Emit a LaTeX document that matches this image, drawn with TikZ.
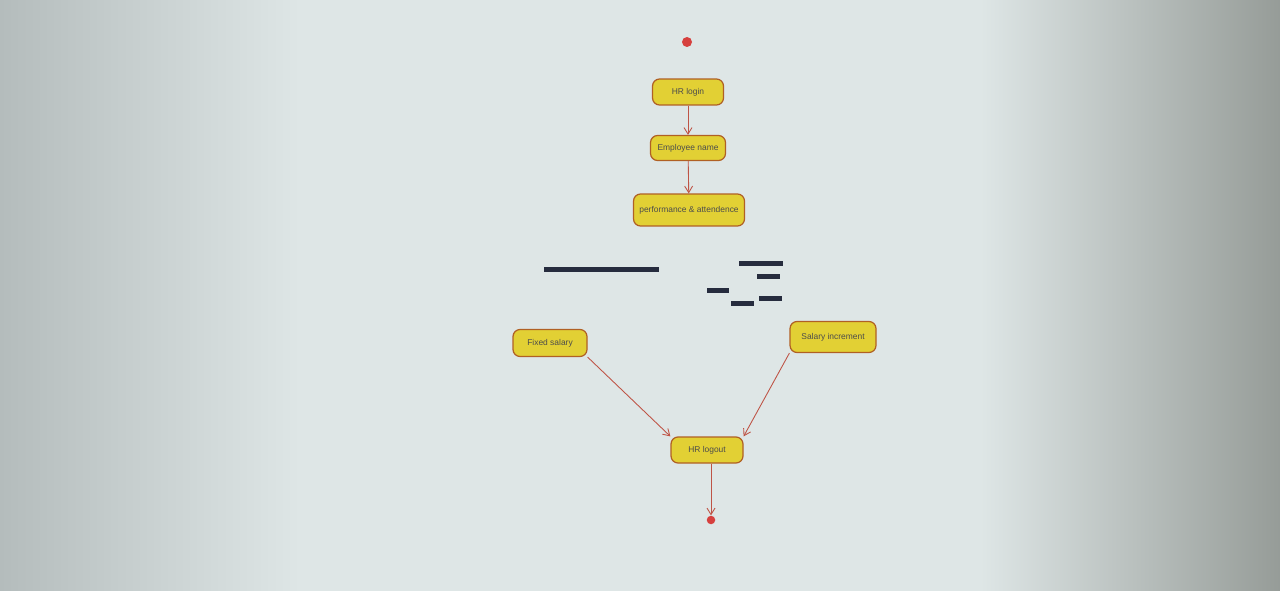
\documentclass[tikz,border=0pt]{standalone}
\usepackage{fontspec}
\setmainfont{Liberation Sans}
\usepackage{tikz}
\usetikzlibrary{arrows.meta, positioning}
\definecolor{actfill}{RGB}{226,208,52}
\definecolor{actdraw}{RGB}{176,96,36}
\definecolor{flow}{RGB}{190,84,70}
\definecolor{dotred}{RGB}{214,64,62}
\definecolor{barblue}{RGB}{38,44,62}
\definecolor{bgleft}{RGB}{180,188,188}
\definecolor{bgmid}{RGB}{222,230,230}
\definecolor{bgright}{RGB}{150,156,152}

\begin{document}
\begin{tikzpicture}[x=0.02cm, y=-0.02cm, >={Straight Barb[length=1.3mm, width=1.6mm]}, flowline/.style={draw=flow, line width=0.5pt}]
% Define styles for actions, bars, start and end
\tikzstyle{action} = [draw=actdraw, fill=actfill, rectangle, rounded corners=4pt, line width=0.7pt, inner sep=1pt, font=\fontsize{4.8}{5.5}\selectfont, text=black!70]
\tikzstyle{initial} = [circle, fill=dotred, inner sep=0pt, minimum size=0.2cm]
\tikzstyle{final} = [circle, fill=dotred, inner sep=0pt, minimum size=0.17cm]
\tikzstyle{syncbar} = [fill=barblue, draw=none]

% Screen background
\useasboundingbox (0,0) rectangle (1280,591);
\shade[left color=bgleft, right color=bgmid] (0,0) rectangle (300,591);
\fill[bgmid] (299,0) rectangle (981,591);
\shade[left color=bgmid, right color=bgright] (980,0) rectangle (1280,591);

% Nodes placement
\node [initial] (start) at (687,42) {};
\node [action, minimum width=1.42cm, minimum height=0.52cm] (login) at (688,92) {HR login};
\node [action, minimum width=1.5cm, minimum height=0.5cm] (empname) at (688,148) {Employee name};
\node [action, minimum width=2.22cm, minimum height=0.64cm] (perf) at (689,210) {performance \& attendence};

\node [action, minimum width=1.48cm, minimum height=0.54cm] (fixed) at (550,343) {Fixed salary};
\node [action, minimum width=1.72cm, minimum height=0.62cm] (incr) at (833,337) {Salary increment};
\node [action, minimum width=1.44cm, minimum height=0.52cm] (logout) at (707,450) {HR logout};
\node [final] (stop) at (711,520) {};

% Synchronisation bars
\fill[syncbar] (544,267) rectangle (659,272);
\fill[syncbar] (739,261) rectangle (783,266);
\fill[syncbar] (757,274) rectangle (780,279);
\fill[syncbar] (707,288) rectangle (729,293);
\fill[syncbar] (731,301) rectangle (754,306);
\fill[syncbar] (759,296) rectangle (782,301);

% Draw edges
\draw[flowline,->] (login) -- (empname);
\draw[flowline,->] (empname) -- (perf);
\draw[flowline,->] (fixed.south east) -- (logout.north west);
\draw[flowline,->] (incr.south west) -- (logout.north east);
\draw[flowline,->] (logout.south -| stop) -- (stop);
\end{tikzpicture}
\end{document}
